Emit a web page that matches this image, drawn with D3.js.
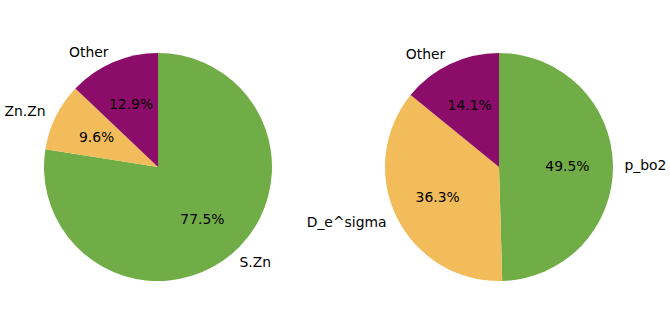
<!DOCTYPE html>
<html>
<head>
<meta charset="utf-8">
<script src="https://cdn.jsdelivr.net/npm/d3@7"></script>
<style>
  body { margin: 0; background: #fff; }
  text { font-family: "DejaVu Sans", sans-serif; font-size: 13.9px; fill: #000; }
</style>
</head>
<body>
<div id="svg-container"></div>
<script>
"use strict";
const leftLabels = ["S.Zn", "Zn.Zn", "Other"];
const leftValues = [77.5, 9.6, 12.9];
const rightLabels = ["p_bo2", "D_e^sigma", "Other"];
const rightValues = [49.5, 36.3, 14.1];
const sliceColors = ["#70ad47", "#f2bc5a", "#8c0d69"];

const width = 670;
const height = 335;
const radius = 114;

const svg = d3.select("#svg-container")
    .append("svg")
    .attr("width", width)
    .attr("height", height);

const color = d3.scaleOrdinal()
    .domain([0, 1, 2])
    .range(sliceColors);

const pie = d3.pie()
    .sort(null)
    .value(d => d.value);

const arc = d3.arc()
    .innerRadius(0)
    .outerRadius(radius);

function drawPie(cx, cy, labels, values) {
    const data = labels.map((label, i) => ({ label, value: values[i], idx: i }));
    const total = d3.sum(values);
    const g = svg.append("g")
        .attr("transform", `translate(${cx}, ${cy})`);
    const arcs = pie(data);
    g.selectAll("path")
        .data(arcs)
        .enter()
        .append("path")
        .attr("d", arc)
        .attr("fill", d => color(d.data.idx));
    const mid = d => (d.startAngle + d.endAngle) / 2;
    // percentages at 0.6 r
    g.selectAll("text.pct")
        .data(arcs)
        .enter()
        .append("text")
        .attr("class", "pct")
        .attr("x", d => 0.6 * radius * Math.sin(mid(d)))
        .attr("y", d => -0.6 * radius * Math.cos(mid(d)))
        .attr("text-anchor", "middle")
        .attr("dominant-baseline", "central")
        .text(d => (d.data.value / total * 100).toFixed(1) + "%");
    // labels at 1.1 r
    g.selectAll("text.lbl")
        .data(arcs)
        .enter()
        .append("text")
        .attr("class", "lbl")
        .attr("x", d => 1.1 * radius * Math.sin(mid(d)))
        .attr("y", d => -1.1 * radius * Math.cos(mid(d)))
        .attr("text-anchor", d => Math.sin(mid(d)) > 0 ? "start" : "end")
        .attr("dominant-baseline", "central")
        .text(d => d.data.label);
}

drawPie(158, 167, leftLabels, leftValues);
drawPie(499, 167, rightLabels, rightValues);
</script>
</body>
</html>
